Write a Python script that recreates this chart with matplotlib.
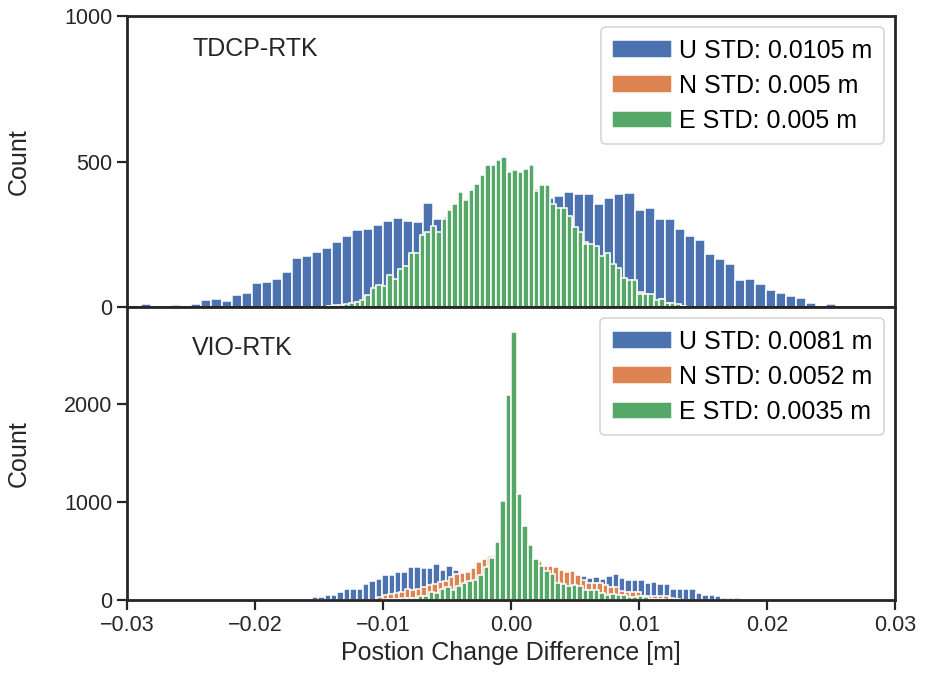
import numpy as np
import matplotlib
matplotlib.use("Agg")
import matplotlib.pyplot as plt

plt.rcParams['font.family'] = ['Liberation Sans', 'DejaVu Sans']

# ---------------- data (histogram counts) ----------------
# Top panel: TDCP-RTK
u_top_start, u_top_width = -0.02891, 0.000787
u_top_counts = [9, 0, 5, 6, 5, 9, 23, 26, 21, 40, 48, 84, 85, 95, 119, 167, 175, 188,
                204, 223, 243, 263, 268, 283, 297, 307, 294, 291, 356, 301,
                310, 330, 340, 350, 355, 360, 360, 365, 370, 370, 375,
                380, 396, 388, 388, 355, 373, 387, 391, 332, 339, 304, 304, 269, 244,
                229, 181, 164, 149, 94, 96, 79, 58, 49, 37, 30, 15, 5, 10]

e_top_start, e_top_width = -0.01435, 0.000425
e_top_counts = [5, 8, 7, 10, 14, 18, 25, 41, 64, 76, 72, 110, 95, 129, 141, 187, 186, 246,
                258, 277, 258, 304, 332, 355, 395, 367, 403, 422, 454, 487, 488, 505, 517,
                465, 471, 465, 473, 488, 397, 420, 420, 353, 339, 339, 312, 275, 259, 218,
                218, 210, 175, 187, 149, 133, 99, 92, 92, 46, 46, 44, 23, 29, 15, 15, 9, 5]
n_top_counts = [3, 5, 5, 8, 12, 16, 22, 38, 60, 72, 70, 104, 92, 124, 136, 180, 182, 240,
                250, 270, 252, 296, 325, 348, 385, 360, 395, 415, 445, 478, 480, 498, 510,
                458, 462, 458, 466, 480, 404, 410, 412, 346, 332, 330, 305, 268, 252, 224,
                210, 204, 170, 180, 144, 128, 95, 88, 88, 50, 42, 40, 20, 26, 13, 12, 7, 3]

# Bottom panel: VIO-RTK
u_bot_start, u_bot_width = -0.01556, 0.0005
u_bot_counts = [29, 26, 50, 46, 84, 111, 108, 115, 166, 197, 218, 251, 258, 282, 285, 340,
                337, 326, 326, 364, 310, 350, 303,
                265, 270, 280, 290, 300, 300, 300, 300, 300, 300, 300, 290, 280, 270, 260,
                250, 240, 235, 225,
                244, 228, 231, 214, 248, 262, 221, 207, 204, 207, 173, 180, 159, 163, 111,
                108, 108, 108, 70, 53, 46, 39, 24, 20, 16]

n_bot_start, n_bot_width = -0.01045, 0.00043
n_bot_counts = [29, 46, 63, 67, 80, 111, 101, 111, 128, 156, 159, 180, 197, 231, 268, 275,
                289, 326, 384, 422,
                450, 460, 470, 470, 460, 450, 440, 420, 405,
                395, 344, 344, 334, 303, 286, 296, 251, 207, 176, 169, 173, 156, 135, 135,
                94, 80, 77, 80, 43, 39, 39, 36, 36, 20, 12]

e_bot_start, e_bot_width = -0.009863, 0.00043
e_bot_counts = [8, 10, 15, 18, 25, 25, 42, 42, 80, 73, 114, 128, 104, 145, 172, 190, 200,
                251, 336, 429, 593, 1015, 2090, 2730, 1080, 752, 557, 420, 352, 291, 263,
                171, 161, 147, 150, 147, 103, 103, 100, 68, 51, 57, 51, 51, 34, 34, 44, 27,
                15, 12, 8]

labels_top = ["U STD: 0.0105 m", "N STD: 0.005 m", "E STD: 0.005 m"]
labels_bot = ["U STD: 0.0081 m", "N STD: 0.0052 m", "E STD: 0.0035 m"]
panel_names = ["TDCP-RTK", "VIO-RTK"]
x_ticks = [-0.03, -0.02, -0.01, 0.00, 0.01, 0.02, 0.03]
y_ticks_top = [0, 500, 1000]
y_ticks_bot = [0, 1000, 2000]

# ---------------- style ----------------
C_U, C_N, C_E = "#4C72B0", "#DD8452", "#55A868"
FS_TICK = 15.5
FS = 18
DARK = "#262626"

fig = plt.figure(figsize=(9.35, 6.82), dpi=100)
left, width = 127 / 935, 768 / 935
ax1 = fig.add_axes([left, 1 - 307 / 682, width, 291 / 682])
ax2 = fig.add_axes([left, 1 - 600 / 682, width, 293 / 682], sharex=ax1)


def draw(ax, start, w, counts, color, label):
    edges = start + w * np.arange(len(counts) + 1)
    ax.bar(edges[:-1], counts, width=w, align="edge", color=color,
           edgecolor="white", linewidth=1.1, label=label)


draw(ax1, u_top_start, u_top_width, u_top_counts, C_U, labels_top[0])
draw(ax1, e_top_start, e_top_width, n_top_counts, C_N, labels_top[1])
draw(ax1, e_top_start, e_top_width, e_top_counts, C_E, labels_top[2])

draw(ax2, u_bot_start, u_bot_width, u_bot_counts, C_U, labels_bot[0])
draw(ax2, n_bot_start, n_bot_width, n_bot_counts, C_N, labels_bot[1])
draw(ax2, e_bot_start, e_bot_width, e_bot_counts, C_E, labels_bot[2])

for ax, name in zip([ax1, ax2], panel_names):
    for s in ax.spines.values():
        s.set_color(DARK)
        s.set_linewidth(2.0)
    ax.tick_params(axis="both", direction="out", length=7, width=1.6,
                   colors=DARK, labelsize=FS_TICK, labelcolor=DARK)
    ax.set_ylabel("Count", fontsize=FS, color=DARK)
    ax.text(0.085, 0.885 if ax is ax1 else 0.86, name, transform=ax.transAxes,
            fontsize=FS, color=DARK, ha="left", va="center")
    leg = ax.legend(loc="upper right", fontsize=FS, frameon=True, fancybox=True,
                    handlelength=2.4, handleheight=0.7, labelspacing=0.45,
                    borderpad=0.45, handletextpad=0.3, borderaxespad=0.45)
    leg.get_frame().set_edgecolor("#cccccc")
    leg.get_frame().set_linewidth(1.2)

ax1.set_xlim(-0.03, 0.03)
ax1.set_ylim(0, 1000)
ax1.set_yticks(y_ticks_top)
ax1.tick_params(axis="x", length=0, labelbottom=False)
ax2.set_ylim(0, 2990)
ax2.set_yticks(y_ticks_bot)
ax2.set_xticks(x_ticks)
ax2.set_xticklabels([f"{v:.2f}".replace("-", "\u2212") for v in x_ticks])
ax2.set_xlabel("Postion Change Difference [m]", fontsize=FS, color=DARK)

ax1.yaxis.set_label_coords(-0.125, 0.5)
ax2.yaxis.set_label_coords(-0.125, 0.5)

fig.savefig("out.png", dpi=100)
